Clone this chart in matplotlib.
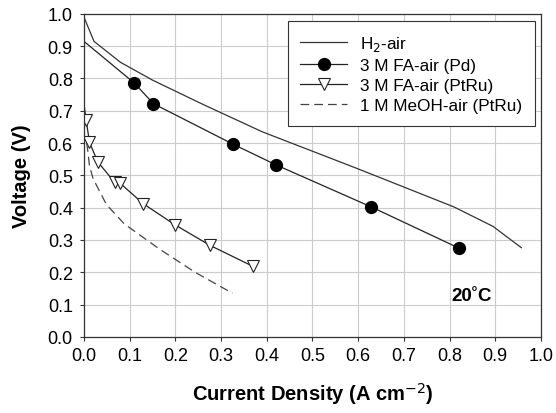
import matplotlib
matplotlib.use("Agg")
import matplotlib.pyplot as plt

plt.rcParams['font.family'] = ['Liberation Sans', 'DejaVu Sans']

# H2-air
h2_x = [0.0, 0.022, 0.08, 0.15, 0.26, 0.39, 0.60, 0.81, 0.895, 0.957]
h2_y = [0.99, 0.915, 0.85, 0.795, 0.72, 0.635, 0.52, 0.402, 0.342, 0.276]

# 3 M FA-air (Pd) (first point: line start without marker)
pd_x = [0.0, 0.11, 0.152, 0.327, 0.421, 0.629, 0.82]
pd_y = [0.915, 0.786, 0.722, 0.596, 0.532, 0.402, 0.275]

# 3 M FA-air (PtRu) (first point: line start without marker)
ptru_x = [0.0, 0.005, 0.012, 0.03, 0.067, 0.078, 0.13, 0.199, 0.276, 0.37]
ptru_y = [0.72, 0.67, 0.603, 0.542, 0.479, 0.477, 0.412, 0.347, 0.283, 0.218]

# 1 M MeOH-air (PtRu)
meoh_x = [0.006, 0.009, 0.012, 0.02, 0.049, 0.088, 0.165, 0.243, 0.325]
meoh_y = [0.60, 0.57, 0.53, 0.49, 0.41, 0.35, 0.272, 0.20, 0.135]

labels = ["H$_2$-air", "3 M FA-air (Pd)", "3 M FA-air (PtRu)", "1 M MeOH-air (PtRu)"]

fig = plt.figure(figsize=(5.56, 4.14), dpi=100)
ax = fig.add_axes([0.151, 0.184, 0.822, 0.78])

ax.plot(h2_x, h2_y, color='#333333', lw=0.9, label=labels[0])
ax.plot(pd_x, pd_y, color='#222222', lw=0.9, marker='o', markersize=8.5,
        markerfacecolor='black', markeredgecolor='black',
        markevery=list(range(1, len(pd_x))), label=labels[1])
ax.plot(ptru_x, ptru_y, color='#222222', lw=0.9, marker='v', markersize=8.5,
        markerfacecolor='white', markeredgecolor='#222222', markeredgewidth=0.8,
        markevery=list(range(1, len(ptru_x))), label=labels[2])
ax.plot(meoh_x, meoh_y, color='#444444', lw=0.9, ls=(0, (7, 4)), label=labels[3])

ax.set_xlim(0, 1.0)
ax.set_ylim(0, 1.0)
ticks = [i / 10 for i in range(11)]
ax.set_xticks(ticks)
ax.set_yticks(ticks)
ax.set_xticklabels([f"{t:.1f}" for t in ticks])
ax.set_yticklabels([f"{t:.1f}" for t in ticks])
ax.tick_params(labelsize=13, direction='out', length=3, width=0.8, color='#333333')
ax.tick_params(axis='x', pad=4)
ax.tick_params(axis='y', pad=5)
ax.grid(True, color='#cccccc', lw=0.8)
ax.set_axisbelow(True)
for s in ax.spines.values():
    s.set_color('#333333')
    s.set_linewidth(0.9)

ax.set_xlabel("Current Density (A cm$^{-2}$)", fontsize=14.5, fontweight='bold', labelpad=12)
ax.set_ylabel("Voltage (V)", fontsize=14.5, fontweight='bold', labelpad=12)

ax.text(0.848, 0.127, "20˚C", fontsize=13.5, fontweight='bold', ha='center', va='center')

leg = ax.legend(loc='upper right', bbox_to_anchor=(0.987, 0.978), borderaxespad=0,
                fontsize=12.3, frameon=True, fancybox=False, edgecolor='#333333', framealpha=1,
                handlelength=2.75, handletextpad=0.75, labelspacing=0.3, borderpad=0.75)
leg.get_frame().set_linewidth(0.8)

fig.savefig("out.png", dpi=100)
